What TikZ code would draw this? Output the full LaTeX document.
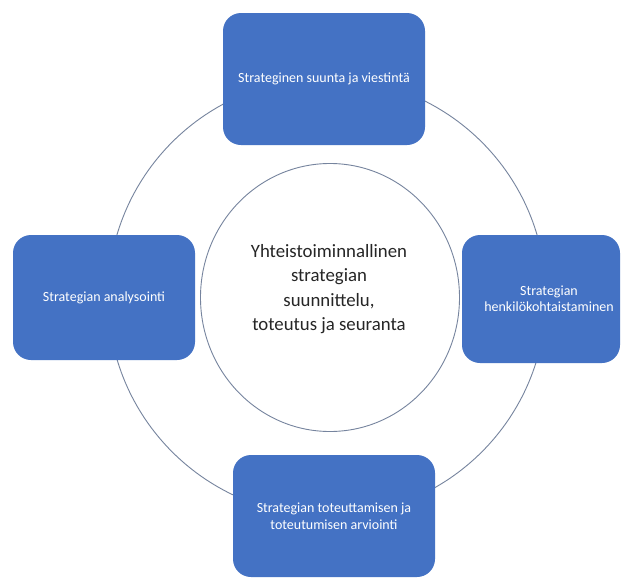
\documentclass[tikz,border=0pt]{standalone}
\usepackage{fontspec}
\setmainfont{Carlito}
\usetikzlibrary{shapes.geometric}
\definecolor{boxblue}{HTML}{4472C4}
\definecolor{ringc}{RGB}{118,132,158}
\definecolor{textc}{HTML}{262626}
\begin{document}
\begin{tikzpicture}[x=1pt,y=-1pt,
  ring/.style={draw=ringc, line width=0.9pt},
  box/.style={draw=none, fill=boxblue, rounded corners=18pt, text=white,
    font=\fontsize{14}{16.5}\selectfont, align=center, inner sep=0pt},
  hubtext/.style={font=\fontsize{18.8}{24.5}\selectfont, text=textc, align=center}]
\useasboundingbox (0,0) rectangle (622,579);
\fill[white] (0,0) rectangle (622,579);
% outer ring
\node[ring, circle, minimum size=438pt, inner sep=0pt] (outer) at (327,297) {};
% boxes
\node[box, minimum width=202pt, minimum height=132pt] (top) at (324,79) {Strateginen suunta ja viestintä};
\node[box, minimum width=182pt, minimum height=125pt] (left) at (104,297.5) {Strategian analysointi};
\node[box, minimum width=158pt, minimum height=128pt,
  label={[text=white, font=\fontsize{14}{16}\selectfont, align=center, xshift=8pt]center:Strategian\\henkilökohtaistaminen}] (right) at (541,299) {};
\node[box, minimum width=202pt, minimum height=122pt] (bottom) at (334,516) {Strategian toteuttamisen ja\\toteutumisen arviointi};
% inner circle
\node[ring, fill=white, ellipse, minimum width=259pt, minimum height=268pt, inner sep=0pt] (hub) at (330,297.5) {};
\node[hubtext] (hubt) at (329,289) {Yhteistoiminnallinen\\strategian\\suunnittelu,\\toteutus ja seuranta};
\end{tikzpicture}
\end{document}
